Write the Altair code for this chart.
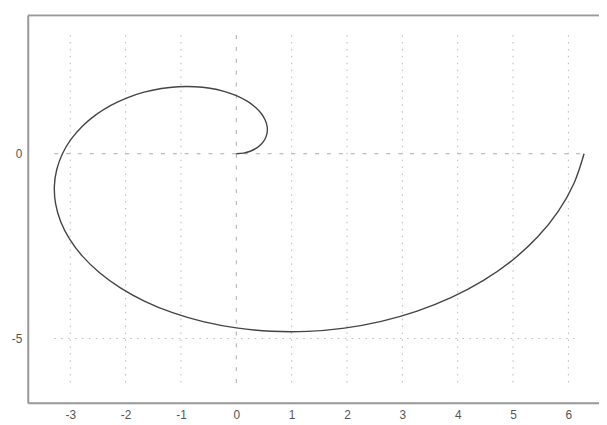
import altair as alt
import pandas as pd

# Spiral points (x, y), in drawing order
spiral_x = [0.0, 0.1298, 0.2529, 0.3628, 0.4535, 0.5192, 0.5554, 0.5578, 0.5236, 0.4508,
            0.3388, 0.1880, 0.0, -0.2221, -0.4743, -0.7514, -1.0472, -1.3547, -1.6661, -1.9731,
            -2.2673, -2.5397, -2.7817, -2.9849, -3.1416, -3.2445, -3.2874, -3.2653, -3.1742, -3.0116,
            -2.7768, -2.4703, -2.0944, -1.6531, -1.1519, -0.5980, 0.0, 0.6322, 1.2874, 1.9536,
            2.6180, 3.2671, 3.8876, 4.4655, 4.9880, 5.4421, 5.8163, 6.0996, 6.2832]
spiral_y = [0.0, 0.0171, 0.0678, 0.1503, 0.2618, 0.3984, 0.5554, 0.7269, 0.9069, 1.0884,
            1.2644, 1.4276, 1.5708, 1.6871, 1.7702, 1.8140, 1.8138, 1.7654, 1.6661, 1.5140,
            1.3090, 1.0520, 0.7454, 0.3930, 0.0, -0.4272, -0.8809, -1.3525, -1.8326, -2.3109,
            -2.7768, -3.2193, -3.6276, -3.9909, -4.2990, -4.5423, -4.7124, -4.8018, -4.8047, -4.7165,
            -4.5345, -4.2578, -3.8876, -3.4265, -2.8798, -2.2542, -1.5585, -0.8031, 0.0]

x_ticks = [-3, -2, -1, 0, 1, 2, 3, 4, 5, 6]
y_ticks = [-5, 0]

# Extent of the grid lines and of the plot window
grid_x_range = [-3.29, 6.21]
grid_y_range = [-6.28, 3.21]
x_domain = [-3.768, 6.553]
y_domain = [-6.738, 3.743]

W, H = 578, 392

curve_df = pd.DataFrame({"x": spiral_x, "y": spiral_y, "order": list(range(len(spiral_x)))})
vgrid_df = pd.DataFrame({"x": [t for t in x_ticks if t != 0],
                         "y": grid_y_range[1], "y2": grid_y_range[0]})
vzero_df = pd.DataFrame({"x": [0], "y": [grid_y_range[1]], "y2": [grid_y_range[0]]})
hgrid_df = pd.DataFrame({"y": [t for t in y_ticks if t != 0],
                         "x": grid_x_range[0], "x2": grid_x_range[1]})
hzero_df = pd.DataFrame({"y": [0], "x": [grid_x_range[0]], "x2": [grid_x_range[1]]})

xs = alt.Scale(domain=x_domain, nice=False, zero=False)
ys = alt.Scale(domain=y_domain, nice=False, zero=False)

label_expr = "'' + datum.value"
xaxis = alt.Axis(values=x_ticks, title=None, grid=False, ticks=False, labelPadding=7,
                 domainColor="#999999", domainWidth=2, labelColor="#555555",
                 labelFont="Liberation Sans", labelFontSize=12, labelExpr=label_expr)
yaxis = alt.Axis(values=y_ticks, title=None, grid=False, ticks=False, labelPadding=6,
                 domainColor="#999999", domainWidth=2, labelColor="#555555",
                 labelFont="Liberation Sans", labelFontSize=12, labelExpr=label_expr)

vgrid = alt.Chart(vgrid_df).mark_rule(color="#b8b8b8", strokeWidth=1, strokeDash=[1.5, 5.5]).encode(
    x=alt.X("x:Q", scale=xs, axis=xaxis), y=alt.Y("y:Q", scale=ys, axis=yaxis), y2="y2:Q")
vzero = alt.Chart(vzero_df).mark_rule(color="#aaaaaa", strokeWidth=1, strokeDash=[4, 8]).encode(
    x=alt.X("x:Q", scale=xs), y=alt.Y("y:Q", scale=ys), y2="y2:Q")
hgrid = alt.Chart(hgrid_df).mark_rule(color="#b8b8b8", strokeWidth=1, strokeDash=[1.5, 5.5]).encode(
    y=alt.Y("y:Q", scale=ys), x=alt.X("x:Q", scale=xs), x2="x2:Q")
hzero = alt.Chart(hzero_df).mark_rule(color="#aaaaaa", strokeWidth=1, strokeDash=[4, 8]).encode(
    y=alt.Y("y:Q", scale=ys), x=alt.X("x:Q", scale=xs), x2="x2:Q")

curve = alt.Chart(curve_df).mark_line(color="#444444", strokeWidth=1.4, interpolate="cardinal").encode(
    x=alt.X("x:Q", scale=xs), y=alt.Y("y:Q", scale=ys), order="order:Q")

top_frame = alt.Chart(pd.DataFrame({"a": [0]})).mark_rule(color="#999999", strokeWidth=2).encode(
    x=alt.value(0), x2=alt.value(W), y=alt.value(0))

chart = alt.layer(vgrid, vzero, hgrid, hzero, curve, top_frame).properties(
    width=W, height=H,
    autosize=alt.AutoSizeParams(type="none"),
    padding={"left": 20, "top": 5, "right": 0, "bottom": 20},
).configure_view(stroke=None).configure(background="white")

chart.save("out.html", embed_options={"renderer": "svg", "actions": False})
